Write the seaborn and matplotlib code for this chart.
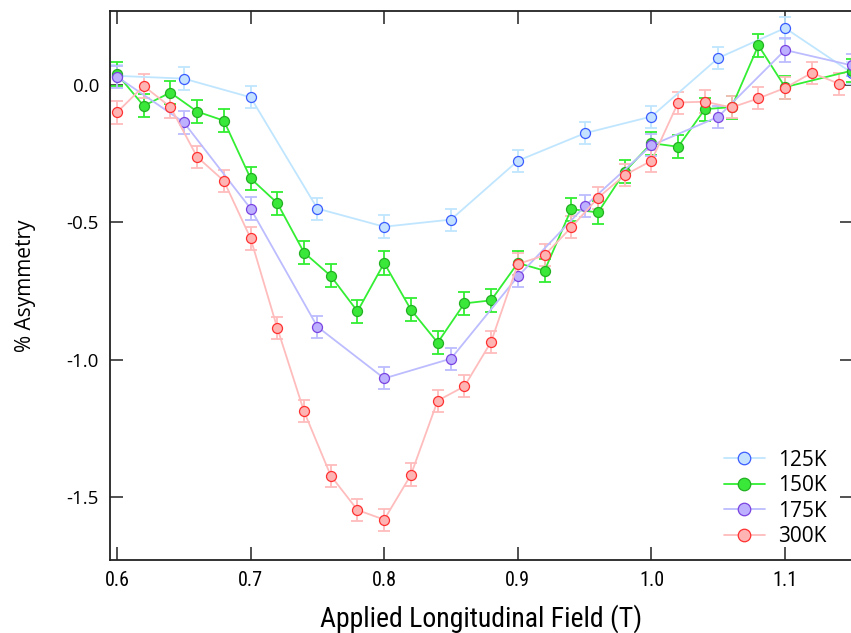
import matplotlib
matplotlib.use("Agg")
import matplotlib.pyplot as plt
from matplotlib.lines import Line2D
import seaborn as sns
import pandas as pd

# field values (T) and asymmetry (%)
field_125 = [0.60, 0.65, 0.70, 0.75, 0.80, 0.85, 0.90, 0.95, 1.00, 1.05, 1.10, 1.15]
asym_125 = [0.033, 0.023, -0.045, -0.45, -0.516, -0.49, -0.276, -0.176, -0.115, 0.098, 0.207, 0.044]
err_125 = [0.04, 0.042, 0.04, 0.04, 0.042, 0.04, 0.04, 0.04, 0.04, 0.04, 0.04, 0.04]

field_150 = [0.60, 0.62, 0.64, 0.66, 0.68, 0.70, 0.72, 0.74, 0.76, 0.78, 0.80, 0.82, 0.84, 0.86,
             0.88, 0.90, 0.92, 0.94, 0.96, 0.98, 1.00, 1.02, 1.04, 1.06, 1.08, 1.10, 1.15]
asym_150 = [0.04, -0.076, -0.028, -0.097, -0.13, -0.34, -0.43, -0.61, -0.695, -0.824, -0.648, -0.818,
            -0.938, -0.795, -0.784, -0.648, -0.676, -0.452, -0.464, -0.316, -0.212, -0.225, -0.088,
            -0.081, 0.144, -0.008, 0.052]
err_150 = [0.045, 0.042, 0.042, 0.042, 0.042, 0.042, 0.042, 0.042, 0.042, 0.042, 0.042, 0.042,
           0.042, 0.042, 0.042, 0.042, 0.042, 0.042, 0.042, 0.042, 0.042, 0.042, 0.042,
           0.042, 0.042, 0.042, 0.042]

field_175 = [0.60, 0.65, 0.70, 0.75, 0.80, 0.85, 0.90, 0.95, 1.00, 1.05, 1.10, 1.15]
asym_175 = [0.03, -0.136, -0.45, -0.88, -1.068, -0.996, -0.697, -0.442, -0.22, -0.116, 0.127, 0.071]
err_175 = [0.04, 0.042, 0.042, 0.04, 0.04, 0.04, 0.04, 0.04, 0.04, 0.04, 0.042, 0.04]

field_300 = [0.60, 0.62, 0.64, 0.66, 0.68, 0.70, 0.72, 0.74, 0.76, 0.78, 0.80, 0.82, 0.84, 0.86,
             0.88, 0.90, 0.92, 0.94, 0.96, 0.98, 1.00, 1.02, 1.04, 1.06, 1.08, 1.10, 1.12, 1.14]
asym_300 = [-0.1, -0.004, -0.08, -0.262, -0.349, -0.558, -0.885, -1.188, -1.422, -1.547, -1.582,
            -1.419, -1.149, -1.097, -0.935, -0.652, -0.62, -0.518, -0.411, -0.328, -0.276, -0.064,
            -0.061, -0.082, -0.049, -0.011, 0.044, 0.005]
err_300 = [0.042, 0.042, 0.042, 0.04, 0.04, 0.042, 0.04, 0.04, 0.04, 0.04, 0.04, 0.042,
           0.04, 0.04, 0.04, 0.04, 0.04, 0.04, 0.04, 0.04, 0.04, 0.04, 0.042, 0.04,
           0.04, 0.04, 0.04, 0.04]

series = [
    ("125K", field_125, asym_125, err_125, "#c0e6ff", "#c4e2ff", "#3a5cff"),
    ("150K", field_150, asym_150, err_150, "#33ee33", "#3ae83a", "#22b022"),
    ("175K", field_175, asym_175, err_175, "#bcbcff", "#bcb0ff", "#7a44e0"),
    ("300K", field_300, asym_300, err_300, "#ffbcbc", "#ffb4b4", "#ff3030"),
]

sns.set_style("ticks")
plt.rcParams.update({"text.color": "black", "axes.labelcolor": "black",
                     "xtick.color": "black", "ytick.color": "black"})
narrow = ["Roboto Condensed", "DejaVu Sans"]
plain = ["Open Sans", "DejaVu Sans"]

fig = plt.figure(figsize=(8.51, 6.33), dpi=100)
ax = fig.add_axes([110 / 851, 1 - 559.5 / 633, 1.002 - 110 / 851, (559.5 - 11) / 633])

handles = []
for name, xs, ys, es, line_c, face_c, edge_c in series:
    df = pd.DataFrame({"field": xs, "asym": ys})
    ax.errorbar(xs, ys, yerr=es, fmt="none", ecolor=line_c, elinewidth=1.3,
                capsize=4.5, capthick=1.3, zorder=2)
    sns.lineplot(data=df, x="field", y="asym", ax=ax, color=line_c, lw=1.3,
                 marker="o", markersize=7.2, markerfacecolor=face_c,
                 markeredgecolor=edge_c, markeredgewidth=0.9,
                 estimator=None, sort=False, zorder=3)
    handles.append(Line2D([], [], color=line_c, lw=1.3, marker="o", markersize=9,
                          markerfacecolor=face_c, markeredgecolor=edge_c,
                          markeredgewidth=0.9, label=name))

ax.set_xlim(0.5948, 1.1506)
ax.set_ylim(-1.727, 0.269)
ax.set_xticks([0.6, 0.7, 0.8, 0.9, 1.0, 1.1])
ax.set_yticks([0.0, -0.5, -1.0, -1.5])
ax.set_xticklabels(["0.6", "0.7", "0.8", "0.9", "1.0", "1.1"], family=narrow, fontsize=14.5)
ax.set_yticklabels(["0.0", "-0.5", "-1.0", "-1.5"], family=plain, fontsize=13.5)
ax.tick_params(direction="in", length=9.5, width=1.1, color="#222222",
               top=True, right=True, pad=8)
for sp in ax.spines.values():
    sp.set_linewidth(1.3)
    sp.set_color("#222222")

ax.set_xlabel("Applied Longitudinal Field (T)", family=narrow, fontsize=20)
ax.set_ylabel("% Asymmetry", family=plain, fontsize=15)
ax.xaxis.set_label_coords(0.5, -0.082)
ax.yaxis.set_label_coords(-0.1, 0.5)

ax.legend(handles=handles, loc="lower right", frameon=False, prop={"family": plain, "size": 15},
          handlelength=2.0, labelspacing=0.22, handletextpad=0.6,
          bbox_to_anchor=(0.99, -0.012))

fig.savefig("out.png", dpi=100)
